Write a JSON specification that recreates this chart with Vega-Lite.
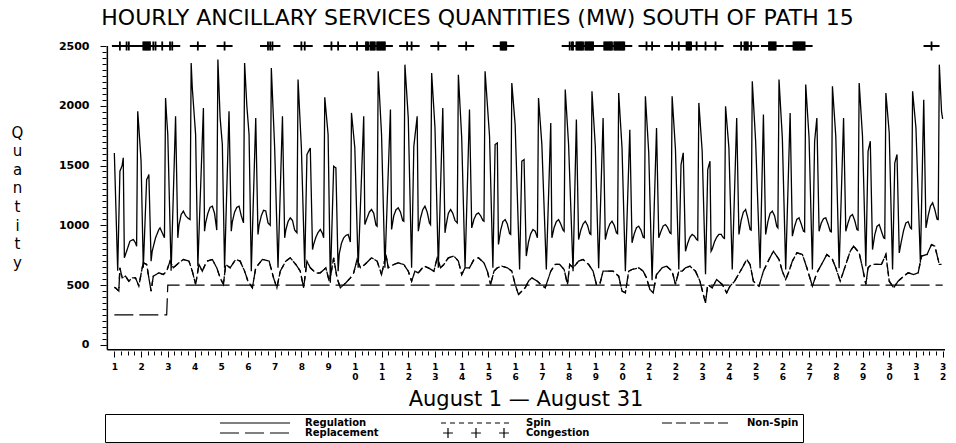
{
  "$schema": "https://vega.github.io/schema/vega-lite/v6.json",
  "width": 839,
  "height": 305,
  "autosize": {"type": "none"},
  "padding": {"left": 106, "top": 46, "right": 11, "bottom": 92},
  "background": "white",
  "config": {
    "view": {"stroke": null},
    "axis": {"domainColor": "black", "tickColor": "black", "labelColor": "black", "titleColor": "black", "grid": false}
  },
  "title": {
    "text": "HOURLY ANCILLARY SERVICES QUANTITIES (MW) SOUTH OF PATH 15",
    "font": "DejaVu Sans", "fontSize": 22, "fontWeight": "normal", "color": "black",
    "anchor": "middle", "dx": -48, "offset": 8
  },
  "resolve": {"axis": {"x": "independent", "y": "independent"}},
  "datasets": {
    "regulation": [
      {"h":0,"v":1605},{"h":3,"v":620},{"h":5,"v":1452},{"h":7,"v":1500},{"h":8,"v":1564},{"h":9,"v":728},{"h":11,"v":783},{"h":14,"v":867},{"h":17,"v":881},{"h":19,"v":853},{"h":20,"v":825},{"h":21,"v":1954},{"h":22,"v":1820},{"h":23,"v":1680},{"h":24,"v":1536},{"h":26,"v":644},
      {"h":29,"v":1382},{"h":30,"v":1400},{"h":31,"v":1424},{"h":33,"v":700},{"h":34,"v":783},{"h":37,"v":895},{"h":40,"v":965},{"h":41,"v":978},{"h":43,"v":937},{"h":45,"v":895},{"h":46,"v":2065},{"h":47,"v":1900},{"h":48,"v":1759},{"h":51,"v":620},
      {"h":55,"v":1912},{"h":57,"v":895},{"h":58,"v":1000},{"h":60,"v":1090},{"h":62,"v":1118},{"h":64,"v":1080},{"h":66,"v":1060},{"h":68,"v":1048},{"h":69,"v":2358},{"h":70,"v":2150},{"h":73,"v":1759},{"h":75,"v":658},
      {"h":80,"v":1982},{"h":81,"v":950},{"h":82,"v":1020},{"h":84,"v":1100},{"h":86,"v":1150},{"h":88,"v":1160},{"h":90,"v":1100},{"h":92,"v":960},{"h":93,"v":2386},{"h":95,"v":1900},{"h":97,"v":1675},{"h":99,"v":644},
      {"h":103,"v":1954},{"h":105,"v":950},{"h":106,"v":1030},{"h":108,"v":1110},{"h":110,"v":1150},{"h":112,"v":1160},{"h":114,"v":1080},{"h":116,"v":1020},{"h":117,"v":2358},{"h":119,"v":2000},{"h":121,"v":1759},{"h":123,"v":616},
      {"h":127,"v":1898},{"h":129,"v":923},{"h":130,"v":1000},{"h":132,"v":1080},{"h":134,"v":1125},{"h":136,"v":1120},{"h":138,"v":1020},{"h":140,"v":1000},{"h":141,"v":2316},{"h":144,"v":1647},{"h":147,"v":644},
      {"h":151,"v":1912},{"h":153,"v":895},{"h":154,"v":960},{"h":156,"v":1030},{"h":158,"v":1062},{"h":160,"v":1040},{"h":162,"v":960},{"h":164,"v":937},{"h":165,"v":2219},{"h":168,"v":1647},{"h":171,"v":644},
      {"h":173,"v":1592},{"h":176,"v":1647},{"h":178,"v":797},{"h":179,"v":840},{"h":181,"v":900},{"h":183,"v":940},{"h":185,"v":965},{"h":187,"v":930},{"h":188,"v":895},{"h":189,"v":2071},{"h":192,"v":1759},{"h":194,"v":520},
      {"h":197,"v":1494},{"h":199,"v":1480},{"h":201,"v":616},{"h":202,"v":760},{"h":204,"v":850},{"h":206,"v":895},{"h":208,"v":915},{"h":210,"v":923},{"h":212,"v":860},{"h":213,"v":1940},{"h":216,"v":1647},{"h":219,"v":644},
      {"h":224,"v":1912},{"h":225,"v":1006},{"h":227,"v":1060},{"h":229,"v":1110},{"h":231,"v":1132},{"h":233,"v":1100},{"h":235,"v":1000},{"h":236,"v":992},{"h":237,"v":2288},{"h":240,"v":1759},{"h":243,"v":644},
      {"h":248,"v":1968},{"h":249,"v":965},{"h":251,"v":1080},{"h":253,"v":1130},{"h":255,"v":1146},{"h":257,"v":1110},{"h":259,"v":1040},{"h":260,"v":1034},{"h":261,"v":2344},{"h":264,"v":1898},{"h":267,"v":644},
      {"h":269,"v":1661},{"h":272,"v":1912},{"h":273,"v":950},{"h":275,"v":1060},{"h":277,"v":1130},{"h":279,"v":1160},{"h":281,"v":1110},{"h":283,"v":1020},{"h":284,"v":1006},{"h":285,"v":2274},{"h":288,"v":1815},{"h":291,"v":644},
      {"h":295,"v":1982},{"h":297,"v":937},{"h":298,"v":1000},{"h":300,"v":1100},{"h":302,"v":1132},{"h":304,"v":1100},{"h":306,"v":1040},{"h":308,"v":1020},{"h":309,"v":2260},{"h":312,"v":1731},{"h":315,"v":644},
      {"h":319,"v":1968},{"h":321,"v":978},{"h":323,"v":1050},{"h":325,"v":1090},{"h":327,"v":1104},{"h":329,"v":1080},{"h":331,"v":1040},{"h":332,"v":1034},{"h":333,"v":2288},{"h":337,"v":1745},{"h":340,"v":644},
      {"h":342,"v":1675},{"h":344,"v":1689},{"h":345,"v":839},{"h":347,"v":960},{"h":349,"v":1030},{"h":351,"v":1048},{"h":353,"v":1010},{"h":355,"v":930},{"h":356,"v":923},{"h":357,"v":2191},{"h":360,"v":1842},{"h":364,"v":630},
      {"h":366,"v":1536},{"h":368,"v":1550},{"h":370,"v":742},{"h":372,"v":860},{"h":374,"v":930},{"h":376,"v":965},{"h":378,"v":950},{"h":380,"v":895},{"h":381,"v":2065},{"h":384,"v":1675},{"h":388,"v":630},
      {"h":392,"v":1856},{"h":393,"v":895},{"h":395,"v":980},{"h":397,"v":1030},{"h":399,"v":1048},{"h":401,"v":1010},{"h":403,"v":960},{"h":404,"v":950},{"h":405,"v":2135},{"h":408,"v":1675},{"h":412,"v":616},
      {"h":415,"v":1884},{"h":417,"v":881},{"h":419,"v":960},{"h":421,"v":1010},{"h":423,"v":1034},{"h":425,"v":1000},{"h":427,"v":930},{"h":428,"v":923},{"h":429,"v":2121},{"h":432,"v":1661},{"h":435,"v":640},
      {"h":439,"v":1898},{"h":441,"v":881},{"h":443,"v":960},{"h":445,"v":1010},{"h":447,"v":1034},{"h":449,"v":1000},{"h":451,"v":937},{"h":452,"v":930},{"h":453,"v":2107},{"h":456,"v":1647},{"h":459,"v":616},
      {"h":463,"v":1800},{"h":465,"v":853},{"h":467,"v":930},{"h":469,"v":980},{"h":471,"v":992},{"h":473,"v":960},{"h":475,"v":900},{"h":476,"v":895},{"h":477,"v":2079},{"h":480,"v":1606},{"h":483,"v":540},
      {"h":487,"v":1814},{"h":489,"v":895},{"h":491,"v":950},{"h":493,"v":995},{"h":495,"v":1006},{"h":497,"v":980},{"h":499,"v":937},{"h":500,"v":930},{"h":501,"v":2079},{"h":504,"v":1633},{"h":507,"v":630},
      {"h":509,"v":1508},{"h":511,"v":1606},{"h":513,"v":783},{"h":515,"v":850},{"h":517,"v":900},{"h":519,"v":923},{"h":521,"v":910},{"h":523,"v":881},{"h":524,"v":875},{"h":525,"v":2024},{"h":528,"v":1619},{"h":531,"v":590},
      {"h":533,"v":1466},{"h":535,"v":1536},{"h":536,"v":783},{"h":537,"v":800},{"h":539,"v":860},{"h":541,"v":900},{"h":543,"v":923},{"h":545,"v":925},{"h":547,"v":895},{"h":548,"v":890},{"h":549,"v":1996},{"h":552,"v":1647},{"h":555,"v":630},
      {"h":559,"v":1898},{"h":561,"v":923},{"h":563,"v":1040},{"h":565,"v":1110},{"h":567,"v":1132},{"h":569,"v":1060},{"h":571,"v":965},{"h":572,"v":960},{"h":573,"v":2205},{"h":576,"v":1703},{"h":580,"v":640},
      {"h":583,"v":1926},{"h":585,"v":923},{"h":587,"v":1030},{"h":589,"v":1100},{"h":591,"v":1118},{"h":593,"v":1080},{"h":595,"v":990},{"h":596,"v":978},{"h":597,"v":2219},{"h":600,"v":1731},{"h":603,"v":630},
      {"h":607,"v":1940},{"h":609,"v":909},{"h":611,"v":990},{"h":613,"v":1050},{"h":615,"v":1062},{"h":617,"v":1010},{"h":619,"v":950},{"h":620,"v":945},{"h":621,"v":2177},{"h":624,"v":1731},{"h":627,"v":630},
      {"h":629,"v":1703},{"h":631,"v":1898},{"h":633,"v":950},{"h":635,"v":1020},{"h":637,"v":1055},{"h":639,"v":1062},{"h":641,"v":1010},{"h":643,"v":950},{"h":644,"v":945},{"h":645,"v":2163},{"h":648,"v":1745},{"h":651,"v":640},
      {"h":655,"v":1898},{"h":657,"v":950},{"h":659,"v":1020},{"h":661,"v":1075},{"h":663,"v":1090},{"h":665,"v":1040},{"h":667,"v":965},{"h":668,"v":960},{"h":669,"v":2191},{"h":672,"v":1745},{"h":675,"v":658},
      {"h":677,"v":1619},{"h":679,"v":1703},{"h":681,"v":797},{"h":683,"v":920},{"h":685,"v":990},{"h":687,"v":1006},{"h":689,"v":950},{"h":691,"v":895},{"h":692,"v":890},{"h":693,"v":2107},{"h":696,"v":1773},{"h":699,"v":630},
      {"h":701,"v":1522},{"h":703,"v":1592},{"h":705,"v":769},{"h":707,"v":870},{"h":709,"v":960},{"h":711,"v":1020},{"h":713,"v":1030},{"h":715,"v":978},{"h":716,"v":970},{"h":717,"v":2121},{"h":720,"v":1815},{"h":724,"v":686},
      {"h":727,"v":2051},{"h":729,"v":978},{"h":731,"v":1080},{"h":733,"v":1160},{"h":735,"v":1188},{"h":737,"v":1130},{"h":739,"v":1050},{"h":740,"v":1048},{"h":741,"v":2344},{"h":743,"v":1950},{"h":744,"v":1890}
    ],
    "spin": [
      {"h":0,"v":480},{"h":1,"v":477},{"h":4,"v":449},{"h":5,"v":644},{"h":7,"v":560},{"h":10,"v":574},{"h":13,"v":532},{"h":16,"v":560},{"h":19,"v":560},{"h":22,"v":491},{"h":25,"v":644},{"h":26,"v":686},{"h":29,"v":672},{"h":31,"v":560},{"h":33,"v":449},{"h":35,"v":574},{"h":40,"v":602},{"h":44,"v":588},{"h":47,"v":616},{"h":50,"v":700},{"h":53,"v":644},{"h":58,"v":686},{"h":62,"v":714},{"h":67,"v":700},{"h":70,"v":616},{"h":73,"v":505},{"h":76,"v":672},{"h":79,"v":616},{"h":83,"v":700},{"h":88,"v":714},{"h":92,"v":644},{"h":95,"v":560},{"h":98,"v":505},{"h":100,"v":672},{"h":104,"v":644},{"h":109,"v":714},{"h":113,"v":700},{"h":117,"v":616},{"h":120,"v":532},{"h":124,"v":477},{"h":127,"v":644},{"h":133,"v":714},{"h":139,"v":700},{"h":143,"v":560},{"h":146,"v":477},{"h":149,"v":616},{"h":154,"v":700},{"h":158,"v":728},{"h":163,"v":672},{"h":167,"v":616},{"h":170,"v":477},{"h":173,"v":700},{"h":176,"v":644},{"h":181,"v":600},{"h":185,"v":602},{"h":190,"v":644},{"h":193,"v":532},{"h":195,"v":616},{"h":197,"v":728},{"h":200,"v":560},{"h":203,"v":477},{"h":208,"v":519},{"h":212,"v":560},{"h":215,"v":602},{"h":218,"v":714},{"h":221,"v":644},{"h":225,"v":672},{"h":231,"v":728},{"h":236,"v":700},{"h":240,"v":588},{"h":244,"v":756},{"h":246,"v":644},{"h":251,"v":672},{"h":255,"v":686},{"h":260,"v":672},{"h":264,"v":616},{"h":267,"v":532},{"h":270,"v":616},{"h":273,"v":602},{"h":278,"v":658},{"h":282,"v":644},{"h":287,"v":616},{"h":290,"v":728},{"h":293,"v":644},{"h":296,"v":672},{"h":300,"v":728},{"h":305,"v":742},{"h":309,"v":700},{"h":312,"v":588},{"h":315,"v":644},{"h":319,"v":644},{"h":323,"v":714},{"h":327,"v":728},{"h":332,"v":686},{"h":335,"v":616},{"h":338,"v":505},{"h":341,"v":616},{"h":344,"v":644},{"h":348,"v":658},{"h":353,"v":644},{"h":357,"v":616},{"h":360,"v":505},{"h":363,"v":421},{"h":366,"v":449},{"h":369,"v":477},{"h":372,"v":532},{"h":375,"v":560},{"h":380,"v":532},{"h":383,"v":505},{"h":387,"v":477},{"h":392,"v":616},{"h":396,"v":672},{"h":400,"v":672},{"h":404,"v":630},{"h":407,"v":505},{"h":409,"v":672},{"h":412,"v":644},{"h":417,"v":700},{"h":421,"v":714},{"h":426,"v":672},{"h":430,"v":616},{"h":433,"v":505},{"h":436,"v":505},{"h":439,"v":616},{"h":444,"v":616},{"h":448,"v":616},{"h":453,"v":574},{"h":456,"v":449},{"h":459,"v":435},{"h":462,"v":616},{"h":465,"v":630},{"h":471,"v":644},{"h":475,"v":616},{"h":478,"v":560},{"h":481,"v":463},{"h":484,"v":435},{"h":487,"v":588},{"h":492,"v":644},{"h":496,"v":658},{"h":501,"v":616},{"h":504,"v":505},{"h":507,"v":616},{"h":510,"v":616},{"h":513,"v":644},{"h":517,"v":658},{"h":522,"v":616},{"h":526,"v":532},{"h":529,"v":421},{"h":531,"v":351},{"h":533,"v":505},{"h":537,"v":477},{"h":541,"v":546},{"h":546,"v":505},{"h":550,"v":435},{"h":553,"v":491},{"h":557,"v":530},{"h":561,"v":595},{"h":564,"v":644},{"h":568,"v":714},{"h":571,"v":672},{"h":574,"v":532},{"h":579,"v":491},{"h":583,"v":616},{"h":588,"v":714},{"h":592,"v":783},{"h":597,"v":714},{"h":600,"v":616},{"h":603,"v":546},{"h":606,"v":616},{"h":609,"v":700},{"h":613,"v":769},{"h":618,"v":756},{"h":622,"v":644},{"h":627,"v":491},{"h":631,"v":602},{"h":636,"v":686},{"h":640,"v":756},{"h":645,"v":714},{"h":648,"v":644},{"h":652,"v":532},{"h":657,"v":672},{"h":661,"v":783},{"h":664,"v":825},{"h":669,"v":769},{"h":672,"v":644},{"h":675,"v":505},{"h":677,"v":644},{"h":680,"v":672},{"h":685,"v":672},{"h":689,"v":672},{"h":693,"v":756},{"h":696,"v":532},{"h":700,"v":477},{"h":704,"v":532},{"h":709,"v":574},{"h":713,"v":602},{"h":718,"v":588},{"h":722,"v":602},{"h":725,"v":742},{"h":730,"v":756},{"h":734,"v":839},{"h":737,"v":825},{"h":741,"v":672},{"h":743,"v":672}
    ],
    "replacement": [
      {"h":0,"v":250},{"h":47,"v":250},{"h":48,"v":500},{"h":744,"v":500}
    ],
    "congestion": [
      {"h":5},{"h":11},{"h":13},{"h":26},{"h":27},{"h":28},{"h":29},{"h":30},{"h":31},{"h":32},{"h":35},{"h":37},{"h":43},{"h":50},{"h":52},{"h":75},{"h":99},{"h":138},{"h":140},{"h":142},{"h":168},{"h":171},{"h":195},{"h":201},{"h":218},{"h":226},{"h":227},{"h":228},{"h":230},{"h":231},{"h":232},{"h":233},{"h":234},{"h":236},{"h":237},{"h":238},{"h":239},{"h":240},{"h":241},{"h":242},{"h":243},{"h":263},{"h":267},{"h":291},{"h":316},{"h":347},{"h":348},{"h":349},{"h":350},{"h":351},{"h":352},{"h":409},{"h":411},{"h":412},{"h":415},{"h":416},{"h":417},{"h":418},{"h":419},{"h":420},{"h":421},{"h":423},{"h":424},{"h":425},{"h":426},{"h":427},{"h":428},{"h":429},{"h":430},{"h":440},{"h":441},{"h":442},{"h":443},{"h":444},{"h":445},{"h":446},{"h":447},{"h":449},{"h":450},{"h":451},{"h":452},{"h":453},{"h":454},{"h":455},{"h":456},{"h":457},{"h":458},{"h":478},{"h":483},{"h":501},{"h":507},{"h":514},{"h":515},{"h":516},{"h":517},{"h":518},{"h":523},{"h":531},{"h":540},{"h":563},{"h":566},{"h":567},{"h":568},{"h":569},{"h":572},{"h":588},{"h":589},{"h":590},{"h":591},{"h":592},{"h":593},{"h":594},{"h":610},{"h":611},{"h":612},{"h":613},{"h":614},{"h":615},{"h":616},{"h":617},{"h":618},{"h":619},{"h":620},{"h":734}
    ],
    "axislines": [{"x0": -6.28, "y0": -42, "x1": 746.1, "y1": 2500}]
  },
  "layer": [
    {
      "data": {"name": "axislines"},
      "mark": {"type": "rule", "color": "black", "strokeWidth": 1.5},
      "encoding": {
        "x": {"field": "x0", "type": "quantitative", "axis": null},
        "y": {"field": "y0", "type": "quantitative", "axis": null},
        "y2": {"field": "y1"}
      }
    },
    {
      "data": {"name": "axislines"},
      "mark": {"type": "rule", "color": "black", "strokeWidth": 1.5},
      "encoding": {
        "x": {"field": "x0", "type": "quantitative", "axis": null},
        "x2": {"field": "x1"},
        "y": {"field": "y0", "type": "quantitative", "axis": null}
      }
    },
    {
      "data": {"name": "regulation"},
      "mark": {"type": "line", "color": "black", "strokeWidth": 1.3},
      "encoding": {
        "x": {
          "field": "h", "type": "quantitative",
          "scale": {"domain": [-7.5, 746.1], "nice": false, "zero": false},
          "axis": {
            "orient": "bottom", "domain": false,
            "values": [0,24,48,72,96,120,144,168,192,216,240,264,288,312,336,360,384,408,432,456,480,504,528,552,576,600,624,648,672,696,720,744],
            "labelExpr": "datum.value < 216 ? toString(datum.value/24+1) : [substring(toString(datum.value/24+1),0,1), substring(toString(datum.value/24+1),1,2)]",
            "tickSize": 6, "labelPadding": 5, "labelBaseline": "top", "labelLineHeight": 10,
            "labelFont": "DejaVu Sans", "labelFontWeight": "bold", "labelFontSize": 9,
            "labelFlush": false, "labelOverlap": false, "labelBound": false,
            "title": "August 1 \u2014 August 31",
            "titleFont": "DejaVu Sans", "titleFontSize": 21, "titleFontWeight": "normal",
            "titleY": 54, "titleBaseline": "alphabetic"
          }
        },
        "y": {
          "field": "v", "type": "quantitative",
          "scale": {"domain": [-52, 2500], "nice": false, "zero": false},
          "axis": {
            "orient": "left", "domain": false,
            "values": [0,500,1000,1500,2000,2500], "format": "d",
            "tickSize": 6, "labelPadding": 11,
            "labelFont": "DejaVu Sans", "labelFontWeight": "bold", "labelFontSize": 11,
            "title": ["Q","u","a","n","t","i","t","y"],
            "titleAngle": 0, "titleX": -89, "titleY": 86, "titleAlign": "center", "titleBaseline": "middle",
            "titleFont": "DejaVu Sans", "titleFontSize": 15, "titleFontWeight": "normal", "titleLineHeight": 18.6
          }
        },
        "strokeDash": {
          "datum": "Regulation", "type": "nominal",
          "scale": {
            "domain": ["Regulation","Spin","Non-Spin","Replacement","Congestion"],
            "range": [[1,0],[5,4],[10,4],[19,6],[1,0]]
          },
          "legend": {
            "orient": "none", "legendX": -1, "legendY": 368,
            "direction": "horizontal", "columns": 3, "gridAlign": "all",
            "title": "XXXXXXXXXXXXXXXX", "titleOrient": "left", "titleOpacity": 0, "titleFontSize": 10, "titlePadding": 3,
            "strokeColor": "black", "fillColor": "white", "padding": 4, "cornerRadius": 0,
            "symbolType": "stroke", "symbolSize": 4900, "symbolStrokeWidth": 1.2, "symbolStrokeColor": "black",
            "clipHeight": 10, "rowPadding": 0, "columnPadding": 61,
            "labelFont": "DejaVu Sans", "labelFontWeight": "bold", "labelFontSize": 10, "labelOffset": 14, "labelColor": "black",
            "encode": {
              "symbols": {
                "update": {
                  "shape": {"signal": "datum.value === 'Congestion' ? 'M-0.94,0H-0.66M-0.8,-0.14V0.14M-0.14,0H0.14M0,-0.14V0.14M0.66,0H0.94M0.8,-0.14V0.14' : 'stroke'"}
                }
              }
            }
          }
        }
      }
    },
    {
      "data": {"name": "spin"},
      "mark": {"type": "line", "color": "black", "strokeWidth": 1.3},
      "encoding": {
        "x": {"field": "h", "type": "quantitative", "axis": null},
        "y": {"field": "v", "type": "quantitative", "axis": null},
        "strokeDash": {"datum": "Spin", "type": "nominal", "legend": null}
      }
    },
    {
      "data": {"name": "spin"},
      "mark": {"type": "line", "color": "black", "strokeWidth": 1.3},
      "encoding": {
        "x": {"field": "h", "type": "quantitative", "axis": null},
        "y": {"field": "v", "type": "quantitative", "axis": null},
        "strokeDash": {"datum": "Non-Spin", "type": "nominal", "legend": null}
      }
    },
    {
      "data": {"name": "replacement"},
      "mark": {"type": "line", "color": "black", "strokeWidth": 1.2},
      "encoding": {
        "x": {"field": "h", "type": "quantitative", "axis": null},
        "y": {
          "field": "v", "type": "quantitative",
          "axis": {
            "orient": "left", "values": [0,50,100,150,200,250,300,350,400,450,550,600,650,700,750,800,850,900,950,1050,1100,1150,1200,1250,1300,1350,1400,1450,1550,1600,1650,1700,1750,1800,1850,1900,1950,2050,2100,2150,2200,2250,2300,2350,2400,2450],
            "labels": false, "domain": false, "tickSize": 4, "title": null
          }
        },
        "strokeDash": {"datum": "Replacement", "type": "nominal", "legend": null}
      }
    },
    {
      "data": {"name": "congestion"},
      "mark": {"type": "point", "shape": "M-1,0H1M0,-0.56V0.56", "size": 256, "filled": false, "color": "black", "strokeWidth": 1.8, "opacity": 1},
      "encoding": {
        "x": {
          "field": "h", "type": "quantitative",
          "axis": {
            "orient": "bottom", "values": [6,12,18,30,36,42,54,60,66,78,84,90,102,108,114,126,132,138,150,156,162,174,180,186,198,204,210,222,228,234,246,252,258,270,276,282,294,300,306,318,324,330,342,348,354,366,372,378,390,396,402,414,420,426,438,444,450,462,468,474,486,492,498,510,516,522,534,540,546,558,564,570,582,588,594,606,612,618,630,636,642,654,660,666,678,684,690,702,708,714,726,732,738],
            "labels": false, "domain": false, "tickSize": 4, "title": null
          }
        },
        "y": {"datum": 2500, "type": "quantitative", "axis": null}
      }
    }
  ]
}
